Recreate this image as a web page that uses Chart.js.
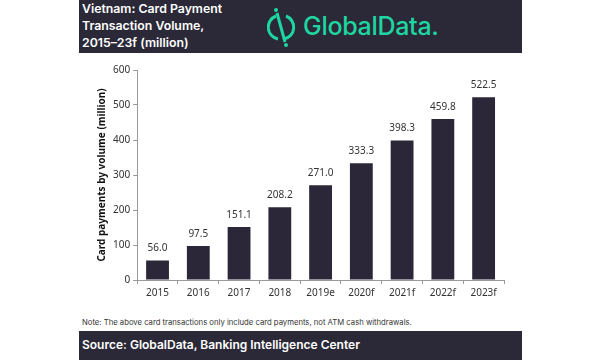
<!DOCTYPE html>
<html>
<head>
<meta charset="utf-8">
<script src="https://cdn.jsdelivr.net/npm/chart.js@4/dist/chart.umd.min.js"></script>
<style>
  body { margin: 0; width: 602px; height: 360px; background: #fff; position: relative; overflow: hidden; font-family: "Inter", "Noto Sans", sans-serif; }
  .header { position: absolute; left: 79px; top: 0; width: 443px; height: 53px; background: #2b2937; }
  .title { position: absolute; left: 3px; top: 0px; color: #fff; font-weight: 600; font-size: 12.3px; line-height: 17px; }
  .logo { position: absolute; left: 188px; top: 6px; height: 42px; }
  .logo-text { position: absolute; left: 36px; top: 5px; color: #1ed6a2; font-size: 25px; font-weight: 500; letter-spacing: -0.3px; white-space: nowrap; }
  .chartbox { position: absolute; left: 94px; top: 60px; width: 418px; height: 242px; }
  .note { position: absolute; left: 82px; top: 318px; font-size: 7.7px; color: #333; white-space: nowrap; }
  .footer { position: absolute; left: 79px; top: 331px; width: 443px; height: 29px; background: #2b2937; }
  .source { position: absolute; left: 3px; top: 6px; color: #fff; font-weight: 600; font-size: 12px; white-space: nowrap; }
</style>
</head>
<body>
<div class="header">
  <div class="title">Vietnam: Card Payment<br>Transaction Volume,<br>2015–23f (million)</div>
  <div class="logo">
    <svg width="30" height="42" viewBox="0 0 30 42" style="position:absolute;left:0;top:0">
      <path d="M9 10 A12 12 0 0 0 11 33" fill="none" stroke="#1ed6a2" stroke-width="3"/>
      <path d="M19 10 A12 12 0 0 1 17 33" fill="none" stroke="#1ed6a2" stroke-width="3"/>
      <line x1="10" y1="7" x2="18" y2="36" stroke="#1ed6a2" stroke-width="3"/>
      <circle cx="9" cy="4" r="2" fill="#1ed6a2"/>
      <circle cx="19" cy="39" r="2" fill="#1ed6a2"/>
    </svg>
    <div class="logo-text">GlobalData.</div>
  </div>
</div>
<div class="chartbox"><canvas id="chart"></canvas></div>
<div class="note">Note: The above card transactions only include card payments, not ATM cash withdrawals.</div>
<div class="footer"><div class="source">Source: GlobalData, Banking Intelligence Center</div></div>
<script>
const years = ["2015", "2016", "2017", "2018", "2019e", "2020f", "2021f", "2022f", "2023f"];
const volumes = [56.0, 97.5, 151.1, 208.2, 271.0, 333.3, 398.3, 459.8, 522.5];
const yTicks = [0, 100, 200, 300, 400, 500, 600];

// labels above bars
const barLabels = {
    id: "barLabels",
    afterDatasetsDraw(chart) {
        const ctx = chart.ctx;
        const meta = chart.getDatasetMeta(0);
        ctx.save();
        ctx.font = "10px 'Noto Sans', sans-serif";
        ctx.fillStyle = "#333";
        ctx.textAlign = "center";
        ctx.textBaseline = "bottom";
        meta.data.forEach((bar, i) => {
            ctx.fillText(volumes[i].toFixed(1), bar.x, bar.y - 7);
        });
        ctx.restore();
    },
};

const ctx = document.getElementById("chart").getContext("2d");
new Chart(ctx, {
    type: "bar",
    data: {
        labels: years,
        datasets: [
            {
                data: volumes,
                backgroundColor: "#2b2638",
                barPercentage: 0.56,
                categoryPercentage: 1,
            },
        ],
    },
    options: {
        responsive: true,
        maintainAspectRatio: false,
        animation: false,
        layout: { padding: { top: 10, right: 8 } },
        plugins: { legend: { display: false }, tooltip: { enabled: false } },
        scales: {
            x: {
                grid: { display: true, drawOnChartArea: false, offset: true, tickLength: 4, color: "#999" },
                border: { color: "#999" },
                ticks: { color: "#333", font: { size: 10, family: "'Noto Sans', sans-serif" }, padding: 3 },
            },
            y: {
                min: 0,
                max: 600,
                afterBuildTicks: (axis) => { axis.ticks = yTicks.map((v) => ({ value: v })); },
                grid: { display: true, drawOnChartArea: false, tickLength: 4, color: "#999" },
                border: { color: "#999" },
                ticks: { color: "#333", font: { size: 10, family: "'Noto Sans', sans-serif" }, padding: 3 },
                title: {
                    display: true,
                    text: "Card payments by volume (million)",
                    color: "#111",
                    font: { size: 10, weight: "bold", family: "'Noto Sans', sans-serif" },
                    padding: 2,
                },
            },
        },
    },
    plugins: [barLabels],
});
</script>
</body>
</html>
